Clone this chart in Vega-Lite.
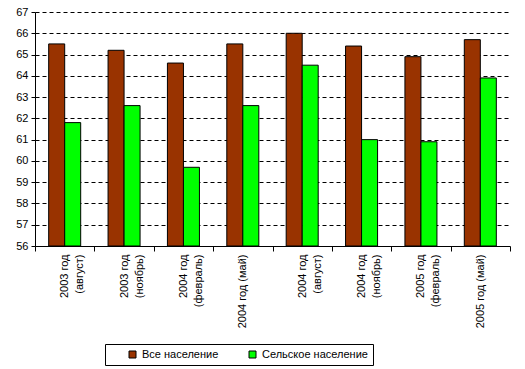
{
  "$schema": "https://vega.github.io/schema/vega-lite/v6.json",
  "width": 475,
  "height": 234,
  "autosize": "none",
  "padding": {"left": 35, "top": 12, "right": 15, "bottom": 123},
  "background": "white",
  "config": {
    "font": "Liberation Sans",
    "view": {"stroke": null},
    "axis": {
      "domainColor": "black",
      "tickColor": "black",
      "labelColor": "black",
      "labelFontSize": 11,
      "labelFont": "Liberation Sans",
      "titleColor": "black"
    }
  },
  "data": {
    "values": [
      {"period": "2003 год|(август)", "series": "Все население", "value": 65.5},
      {"period": "2003 год|(август)", "series": "Сельское население", "value": 61.8},
      {"period": "2003 год|(ноябрь)", "series": "Все население", "value": 65.2},
      {"period": "2003 год|(ноябрь)", "series": "Сельское население", "value": 62.6},
      {"period": "2004 год|(февраль)", "series": "Все население", "value": 64.6},
      {"period": "2004 год|(февраль)", "series": "Сельское население", "value": 59.7},
      {"period": "2004 год (май)", "series": "Все население", "value": 65.5},
      {"period": "2004 год (май)", "series": "Сельское население", "value": 62.6},
      {"period": "2004 год|(август)", "series": "Все население", "value": 66.0},
      {"period": "2004 год|(август)", "series": "Сельское население", "value": 64.5},
      {"period": "2004 год|(ноябрь)", "series": "Все население", "value": 65.4},
      {"period": "2004 год|(ноябрь)", "series": "Сельское население", "value": 61.0},
      {"period": "2005 год|(февраль)", "series": "Все население", "value": 64.9},
      {"period": "2005 год|(февраль)", "series": "Сельское население", "value": 60.9},
      {"period": "2005 год (май)", "series": "Все население", "value": 65.7},
      {"period": "2005 год (май)", "series": "Сельское население", "value": 63.9}
    ]
  },
  "mark": {"type": "bar", "stroke": "black", "strokeWidth": 1},
  "encoding": {
    "x": {
      "field": "period",
      "type": "nominal",
      "sort": null,
      "scale": {"paddingInner": 0, "paddingOuter": 0},
      "axis": {
        "title": null,
        "labelAngle": -90,
        "labelExpr": "split(datum.label, '|')",
        "labelLineHeight": 15,
        "tickBand": "extent",
        "tickSize": 5,
        "labelPadding": 3,
        "grid": false
      }
    },
    "xOffset": {
      "field": "series",
      "type": "nominal",
      "sort": ["Все население", "Сельское население"],
      "scale": {"paddingInner": 0, "paddingOuter": 0.855}
    },
    "y": {
      "field": "value",
      "type": "quantitative",
      "scale": {"domain": [56, 67], "nice": false, "zero": false},
      "axis": {
        "title": null,
        "values": [56, 57, 58, 59, 60, 61, 62, 63, 64, 65, 66, 67],
        "grid": true,
        "gridColor": "black",
        "gridDash": [4, 3],
        "gridOpacity": 1,
        "tickSize": 4,
        "labelPadding": 3
      }
    },
    "y2": {"datum": 56},
    "color": {
      "field": "series",
      "type": "nominal",
      "sort": ["Все население", "Сельское население"],
      "scale": {"range": ["#993300", "#00FF00"]},
      "legend": {
        "title": null,
        "orient": "none",
        "legendX": 70,
        "legendY": 332,
        "direction": "horizontal",
        "strokeColor": "black",
        "fillColor": "white",
        "padding": 5,
        "symbolType": "square",
        "symbolSize": 49,
        "symbolStrokeColor": "black",
        "symbolStrokeWidth": 1,
        "symbolOpacity": 1,
        "symbolOffset": 17,
        "labelFontSize": 11,
        "labelColor": "black",
        "labelOffset": 4,
        "columnPadding": 11
      }
    }
  }
}
